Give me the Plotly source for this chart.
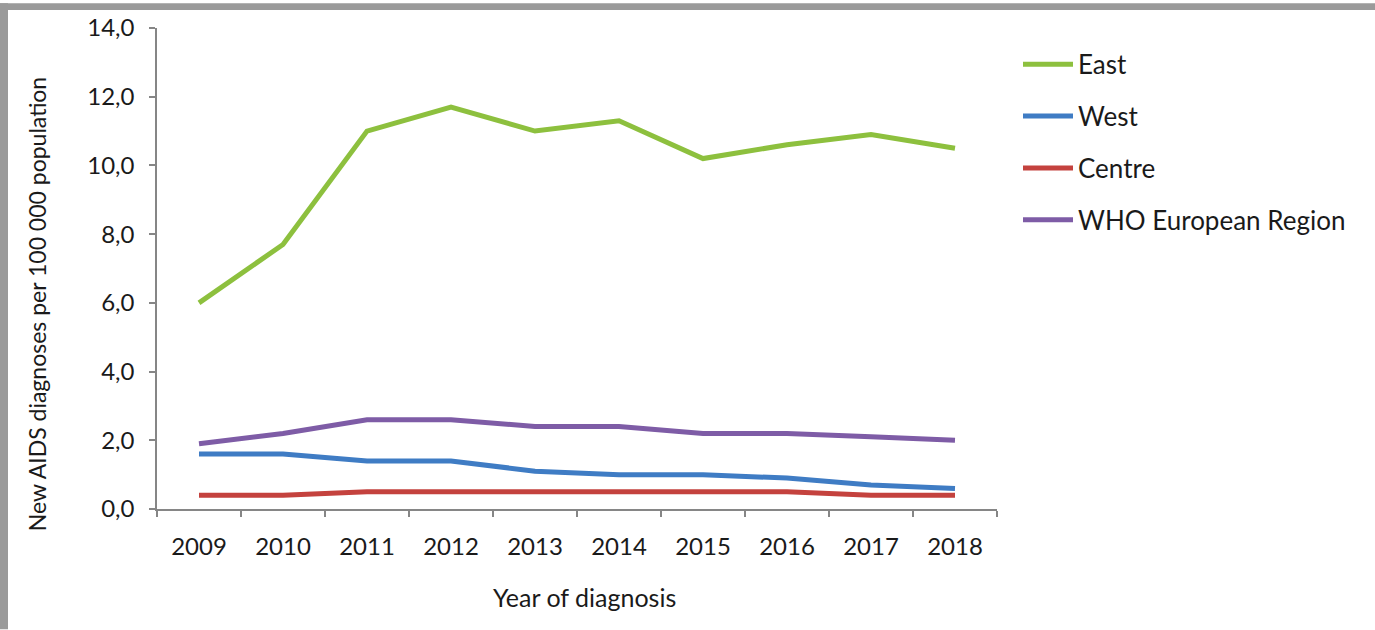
import plotly.graph_objects as go

years = ["2009", "2010", "2011", "2012", "2013", "2014", "2015", "2016", "2017", "2018"]
east = [6.0, 7.7, 11.0, 11.7, 11.0, 11.3, 10.2, 10.6, 10.9, 10.5]
west = [1.6, 1.6, 1.4, 1.4, 1.1, 1.0, 1.0, 0.9, 0.7, 0.6]
centre = [0.4, 0.4, 0.5, 0.5, 0.5, 0.5, 0.5, 0.5, 0.4, 0.4]
who_region = [1.9, 2.2, 2.6, 2.6, 2.4, 2.4, 2.2, 2.2, 2.1, 2.0]

series = [
    ("East", east, "#8DC03E"),
    ("West", west, "#3F7CC4"),
    ("Centre", centre, "#C4423E"),
    ("WHO European Region", who_region, "#7E5CA6"),
]

FONT = "Lato"
W, H = 1375, 630
L, R, T, B = 157, 997, 25, 509
pw, ph = R - L, B - T

def px(x):
    return (x - L) / pw

def py(y):
    return (B - y) / ph

fig = go.Figure()
for i, (name, vals, col) in enumerate(series):
    fig.add_trace(go.Scatter(
        x=years, y=vals, name=name, mode="lines",
        line=dict(color=col, width=5),
        legendgroup=f"g{i}",
    ))

fig.update_layout(
    width=W, height=H,
    margin=dict(l=L, r=W - R, t=T, b=H - B),
    paper_bgcolor="white", plot_bgcolor="white",
    separators=", ",
    font=dict(family=FONT, color="#1a1a1a", size=24),
    showlegend=True,
    legend=dict(
        x=px(1018), xanchor="left", y=py(38), yanchor="top",
        font=dict(family=FONT, size=26, color="#1a1a1a"),
        tracegroupgap=15, itemwidth=50, bgcolor="rgba(0,0,0,0)",
    ),
    xaxis=dict(
        type="category", range=[-0.5, 9.5],
        showline=True, linecolor="#868686", linewidth=1.5,
        ticks="outside", ticklen=6, tickcolor="#868686", tickwidth=1.5,
        tickson="boundaries", showgrid=False, zeroline=False,
        tickfont=dict(family=FONT, size=24, color="#1a1a1a"),
        ticklabelstandoff=15,
    ),
    yaxis=dict(
        range=[0, 14], tickvals=[0, 2, 4, 6, 8, 10, 12, 14], tickformat=".1f",
        showline=True, linecolor="#868686", linewidth=1.5,
        ticks="outside", ticklen=6, tickcolor="#868686", tickwidth=1.5,
        showgrid=False, zeroline=False,
        tickfont=dict(family=FONT, size=24, color="#1a1a1a"),
        ticklabelstandoff=10,
    ),
    annotations=[
        dict(text="New AIDS diagnoses per 100 000 population", xref="paper", yref="paper",
             x=px(37), y=py(303), xanchor="center", yanchor="middle", textangle=-90,
             showarrow=False, font=dict(family=FONT, size=23, color="#1a1a1a")),
        dict(text="Year of diagnosis", xref="paper", yref="paper",
             x=px(584), y=py(598), xanchor="center", yanchor="middle",
             showarrow=False, font=dict(family=FONT, size=25, color="#1a1a1a")),
    ],
    shapes=[
        dict(type="rect", xref="paper", yref="paper", x0=px(0), x1=px(W), y0=py(7), y1=py(0),
             fillcolor="#9a9a9a", line=dict(width=0), layer="above"),
        dict(type="rect", xref="paper", yref="paper", x0=px(0), x1=px(8), y0=py(H), y1=py(0),
             fillcolor="#9a9a9a", line=dict(width=0), layer="above"),
    ],
)

fig.write_html(
    "out.html",
    config={"displayModeBar": False},
    post_script="document.body.style.margin='0';document.body.style.overflow='hidden';",
)
